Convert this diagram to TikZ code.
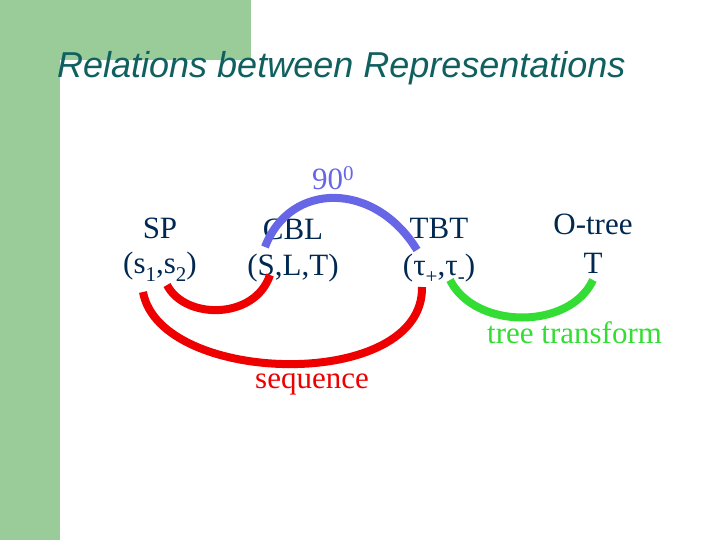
\documentclass[tikz,border=0pt]{standalone}
\usepackage{fontspec}
\setmainfont{Liberation Serif}
\newfontfamily\titlefont{Liberation Sans}
\definecolor{bggreen}{RGB}{153,204,153}
\definecolor{titleteal}{RGB}{16,96,96}
\definecolor{mynavy}{RGB}{0,40,80}
\definecolor{arcblue}{RGB}{102,102,230}
\definecolor{arcred}{RGB}{238,0,0}
\definecolor{arcgreen}{RGB}{51,221,51}
\newcommand{\sbs}[1]{\raisebox{-0.28em}{\fontsize{21}{21}\selectfont #1}}
\newcommand{\sps}[1]{\raisebox{0.3em}{\fontsize{21}{21}\selectfont #1}}
\begin{document}
\begin{tikzpicture}[x=1pt,y=-1pt,
  lbl/.style={anchor=base, inner sep=0pt, text=mynavy, font=\fontsize{31}{31}\selectfont},
  note/.style={anchor=base west, inner sep=0pt, font=\fontsize{31}{31}\selectfont},
  arcline/.style={line width=8pt}]
\useasboundingbox (0,0) rectangle (720,540);
\fill[bggreen] (0,0) rectangle (251,60);
\fill[bggreen] (0,0) rectangle (60,540);
\node[anchor=base west, inner sep=0pt, text=titleteal, font=\titlefont\itshape\fontsize{36}{36}\selectfont] (title) at (57,78) {Relations between Representations};

\node[lbl] (sp1) at (160,239) {SP};
\node[lbl] (sp2) at (160,273) {(s\sbs{1},s\sbs{2})};
\node[lbl] (cbl1) at (293,240) {CBL};
\node[lbl] (cbl2) at (293,275) {(S,L,T)};
\node[lbl] (tbt1) at (439,238) {TBT};
\node[lbl] (tbt2) at (439,275) {(τ\sbs{+},τ\sbs{-})};
\node[lbl] (ot1) at (593,235) {O-tree};
\node[lbl] (ot2) at (593,273) {T};

\node[note, text=arcblue] (ang) at (312,190) {90\sps{0}};
\node[note, text=arcgreen] (tt) at (487,343) {tree transform};
\node[note, text=arcred] (seq) at (255,388) {sequence};

\coordinate (b1) at (265,247);
\coordinate (b2) at (417,250);
\coordinate (r1) at (167,285);
\coordinate (r2) at (270,275);
\coordinate (r3) at (143,292);
\coordinate (r4) at (422,287);
\coordinate (g1) at (450,280);
\coordinate (g2) at (593,280);

\draw[arcline, arcblue] (b1) .. controls (290,181) and (375,181) .. (b2);
\draw[arcline, arcred] (r1) .. controls (185,320) and (255,320) .. (r2);
\draw[arcline, arcred] (r3) .. controls (160,386) and (424,392) .. (r4);
\draw[arcline, arcgreen] (g1) .. controls (475,330) and (570,330) .. (g2);
\end{tikzpicture}
\end{document}
